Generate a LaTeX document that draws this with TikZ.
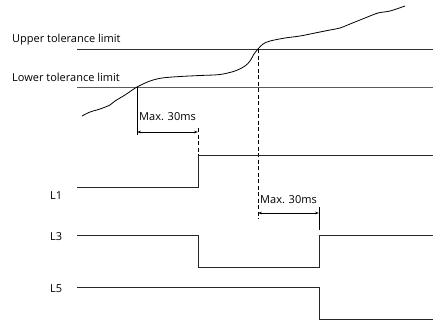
\documentclass[tikz,border=0pt]{standalone}
\usepackage{fontspec}
\setmainfont{Open Sans}
\usetikzlibrary{arrows.meta}
\begin{document}
\begin{tikzpicture}[x=1pt,y=-1pt,
  sig/.style={line width=0.8pt,black!85},
  lim/.style={line width=0.7pt,black!80},
  lbl/.style={font=\fontsize{11}{12}\selectfont,inner sep=0pt,anchor=west},
  dimarr/.style={line width=0.5pt,{Stealth[length=4pt,width=2.5pt]}-{Stealth[length=4pt,width=2.5pt]}},
  guide/.style={line width=0.6pt,dashed,dash pattern=on 4pt off 2.5pt}]
\useasboundingbox (0,0) rectangle (433,322);
% tolerance limits
\node[lbl] (up) at (12,40) {Upper tolerance limit};
\node[lbl] (lo) at (12,77) {Lower tolerance limit};
\coordinate (ul0) at (77,49); \coordinate (ul1) at (433,49);
\coordinate (ll0) at (77,87); \coordinate (ll1) at (433,87);
\draw[lim] (ul0) -- (ul1);
\draw[lim,black!65] (ll0) -- (ll1);
% signal curve
\draw[line width=0.8pt] plot[smooth,tension=0.5] coordinates {
 (82,116) (90,112) (100,109) (110,105) (115,101) (125,95) (137,87)
 (150,81) (162,78) (180,76.5) (200,75.5) (220,74.5) (235,71) (245,66)
 (250,61) (254,54) (258,49) (263,44) (270,41) (285,38) (300,36)
 (315,33) (330,30) (340,28) (350,24) (365,18) (378,13) (390,11) (405,6)};
% crossing markers
\coordinate (c1) at (137,87);
\coordinate (c1b) at (137,135);
\draw[line width=0.6pt] (c1) -- (c1b);
\coordinate (c2) at (258,49);
\coordinate (c2b) at (258,219);
\draw[guide] (c2) -- (c2b);
% first Max. 30ms
\node[lbl] (m1) at (139,117) {Max. 30ms};
\coordinate (a1) at (137,132); \coordinate (a2) at (198,132);
\draw[dimarr] (a1) -- (a2);
\coordinate (d1) at (198,128); \coordinate (d1b) at (198,155);
\draw[guide] (d1) -- (d1b);
% L1
\node[lbl] (L1) at (50,196) {L1};
\coordinate (p1) at (77,187);
\draw[sig] (p1) -- (198,187) -- (198,155) -- (433,155);
% second Max. 30ms
\node[lbl] (m2) at (260,200) {Max. 30ms};
\coordinate (b1) at (258,213); \coordinate (b2) at (319,213);
\draw[dimarr] (b1) -- (b2);
\coordinate (t1) at (319,207); \coordinate (t1b) at (319,230);
\draw[line width=0.6pt] (t1) -- (t1b);
% L3
\node[lbl] (L3) at (50,237) {L3};
\coordinate (p3) at (77,235);
\draw[sig] (p3) -- (198,235) -- (198,267) -- (319,267) -- (319,235) -- (433,235);
% L5
\node[lbl] (L5) at (50,289) {L5};
\coordinate (p5) at (77,287);
\draw[sig] (p5) -- (319,287) -- (319,319) -- (433,319);
\end{tikzpicture}
\end{document}
